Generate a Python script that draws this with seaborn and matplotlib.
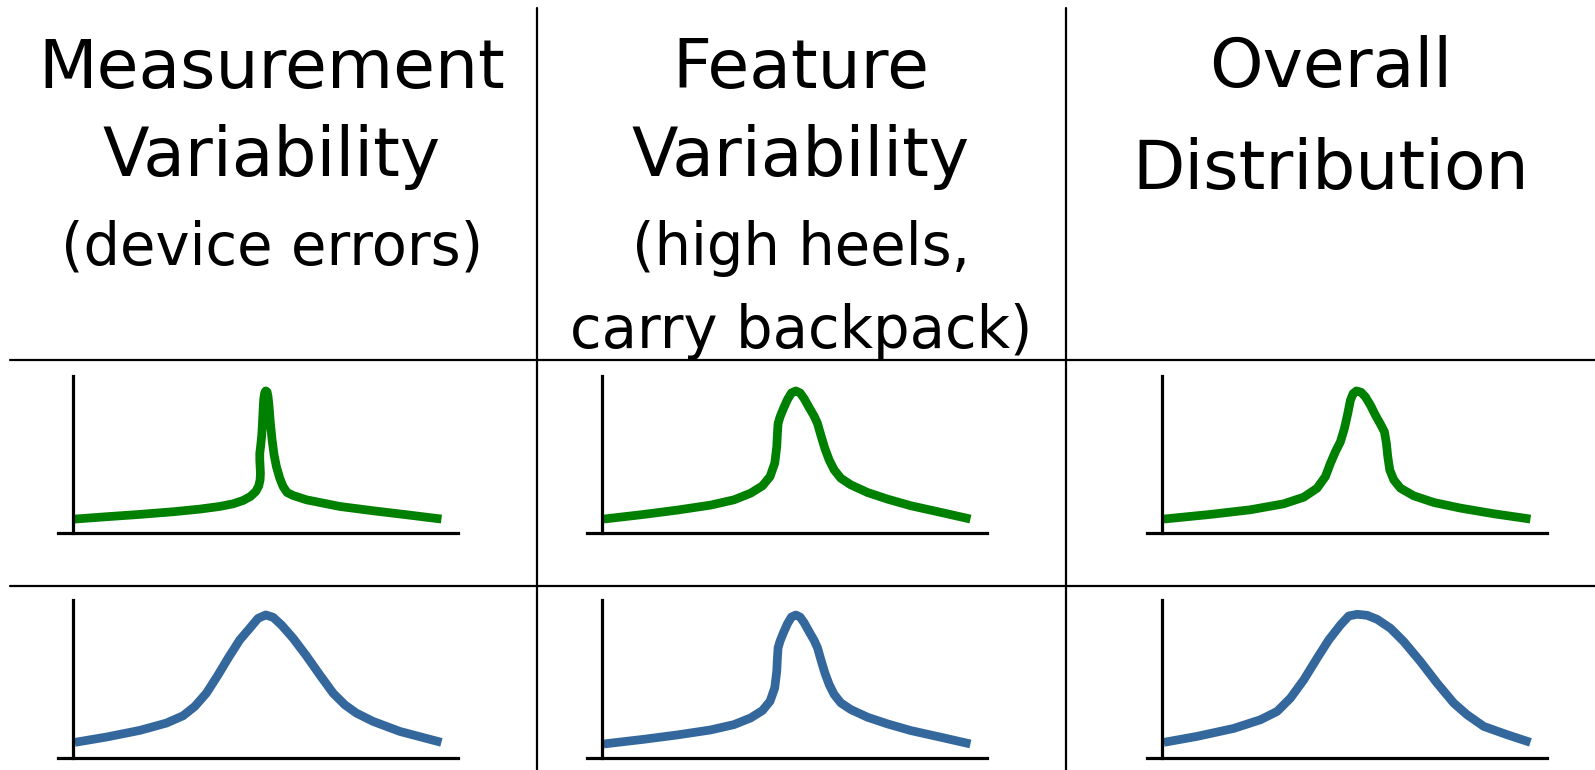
import matplotlib
matplotlib.use("Agg")
import matplotlib.pyplot as plt
import pandas as pd
import seaborn as sns

# Column headings: (text, baseline y in px, big/small)
col_centers = [272, 801, 1331]
headers = [
    [("Measurement", 88, "big"), ("Variability", 176, "big"), ("(device errors)", 265, "small")],
    [("Feature", 88, "big"), ("Variability", 176, "big"), ("(high heels,", 265, "small"), ("carry backpack)", 348, "small")],
    [("Overall", 87, "big"), ("Distribution", 189, "big")],
]

# Curve shapes (x: 0-100 along the axis, y: 0-100 of the axis height)
meas_x = [0.45, 9.05, 18.10, 27.15, 34.39, 39.82, 43.44, 46.15, 48.14, 49.59, 50.41, 50.77, 50.86, 50.77,
          50.68, 50.68, 50.95, 51.22, 51.40, 51.58, 51.76, 52.04, 52.31, 52.67, 52.94, 53.21, 53.57, 54.03,
          54.57, 55.20, 56.11, 57.01, 58.10, 59.73, 63.35, 67.87, 72.40, 81.45, 90.50, 100]
meas_y = [8.88, 10.36, 11.84, 13.53, 15.22, 16.91, 18.60, 20.72, 23.26, 26.43, 30.02, 33.83, 38.05, 42.28,
          46.51, 50.74, 56.03, 62.37, 69.77, 78.22, 85.62, 89.43, 90.49, 89.85, 86.68, 80.34, 69.77, 59.20,
          49.68, 42.28, 34.88, 29.60, 25.79, 23.89, 21.14, 19.03, 16.91, 14.16, 11.63, 8.88]

feat_x = [0.45, 11.33, 20.40, 29.46, 35.81, 40.34, 43.52, 45.60, 46.87, 47.42, 47.60, 47.78, 48.32, 49.23,
          50.32, 51.41, 52.58, 53.76, 54.85, 56.21, 57.57, 58.48, 59.38, 60.47, 61.65, 63.01, 64.82, 67.54,
          72.08, 77.52, 83.86, 92.02, 100]
feat_y = [8.88, 11.84, 14.59, 17.76, 21.14, 25.37, 30.02, 35.94, 44.40, 54.97, 63.42, 69.77, 74.00, 79.28,
          84.99, 89.22, 90.49, 89.22, 85.62, 79.92, 74.42, 69.77, 62.37, 53.91, 46.51, 40.17, 34.88, 30.66,
          25.79, 21.56, 17.34, 13.11, 8.88]

over_x = [0.45, 13.12, 23.98, 33.03, 38.46, 42.08, 44.34, 45.70, 47.06, 48.42, 49.50, 50.41, 51.13, 51.86,
          52.76, 54.03, 55.20, 56.56, 57.92, 59.28, 60.36, 60.90, 61.27, 61.81, 62.90, 64.71, 68.33, 73.76,
          81.00, 90.05, 100]
over_y = [8.88, 11.84, 14.80, 18.60, 22.83, 28.54, 35.94, 44.40, 51.80, 58.14, 66.60, 76.11, 84.57, 88.79,
          90.49, 89.64, 86.68, 81.40, 75.05, 69.34, 64.48, 57.08, 48.63, 40.17, 33.83, 28.54, 23.68, 19.45,
          15.86, 12.26, 8.88]

meas2_x = [0.45, 9.05, 18.10, 25.34, 29.86, 33.03, 36.20, 39.37, 42.08, 45.25, 47.96, 50.23, 52.31, 54.30,
           56.56, 59.73, 63.35, 66.97, 70.59, 73.76, 76.92, 81.45, 88.69, 100]
meas2_y = [9.89, 13.26, 17.47, 22.11, 26.74, 32.63, 41.05, 52.63, 63.16, 74.74, 82.11, 88.42, 90.53, 89.05,
           84.21, 75.79, 64.63, 52.63, 41.05, 33.68, 28.42, 23.16, 16.84, 9.89]

over2_x = [0.45, 9.50, 19.46, 26.70, 31.22, 34.84, 38.46, 42.08, 45.25, 48.42, 50.68, 52.94, 55.66, 58.37,
           61.99, 65.61, 70.14, 74.66, 79.19, 82.81, 87.33, 93.67, 100]
over2_y = [9.89, 13.68, 18.74, 24.21, 29.47, 37.89, 49.47, 63.16, 74.74, 84.21, 89.89, 90.95, 90.32, 87.79,
           82.11, 73.68, 61.05, 47.37, 34.74, 27.37, 20.00, 14.74, 9.89]

green = "#008000"
blue = "#34689C"

rows = [
    [(meas_x, meas_y), (feat_x, feat_y), (over_x, over_y)],
    [(meas2_x, meas2_y), (feat_x, feat_y), (over2_x, over2_y)],
]
row_colors = [green, blue]

W, H = 1595, 770
sns.set_style("white")
plt.rcParams['font.family'] = ['DejaVu Sans']
fig = plt.figure(figsize=(W / 100, H / 100), dpi=100)

# table grid
bg = fig.add_axes([0, 0, 1, 1])
bg.set_xlim(0, W)
bg.set_ylim(H, 0)
bg.axis("off")
for yy in [360, 586]:
    bg.plot([10, W], [yy, yy], color="black", lw=1.6)
for xx in [537, 1066]:
    bg.plot([xx, xx], [8, H], color="black", lw=1.6)

# header texts
for cx, lines in zip(col_centers, headers):
    for txt, base, size in lines:
        fig.text(cx / W, 1 - base / H, txt, ha="center", va="baseline",
                 fontsize=49 if size == "big" else 41.5, color="black")

# small curve panels
panel_left = [58, 587, 1147]
panel_rows = [(376, 533), (600, 758)]
for r, (top, bottom) in enumerate(panel_rows):
    for c, (xs, ys) in enumerate(rows[r]):
        ax = fig.add_axes([panel_left[c] / W, 1 - bottom / H, 400 / W, (bottom - top) / H])
        df = pd.DataFrame({"x": xs, "y": ys})
        sns.lineplot(data=df, x="x", y="y", ax=ax, sort=False, estimator=None,
                     color=row_colors[r], lw=6.3, solid_joinstyle="round", solid_capstyle="butt",
                     clip_on=False)
        ax.set_xlim(-4.1, 104.5)
        ax.set_ylim(0, 100)
        ax.spines["left"].set_position(("data", 0))
        for s in ["top", "right"]:
            ax.spines[s].set_visible(False)
        for s in ["left", "bottom"]:
            ax.spines[s].set_color("black")
            ax.spines[s].set_linewidth(2.3)
        ax.set_xticks([])
        ax.set_yticks([])
        ax.set_xlabel("")
        ax.set_ylabel("")
        ax.patch.set_alpha(0)

fig.savefig("out.png", dpi=100)
